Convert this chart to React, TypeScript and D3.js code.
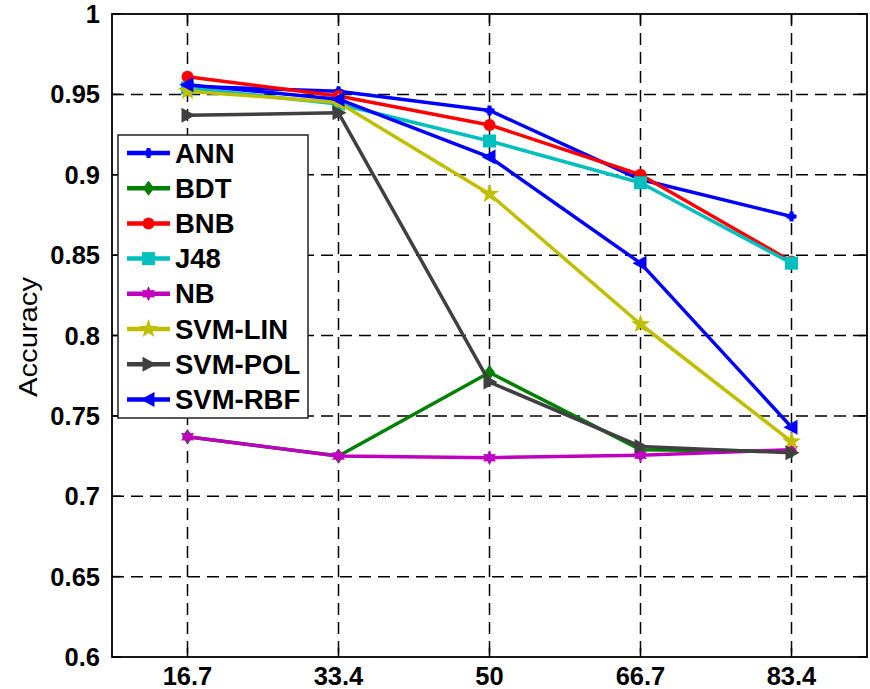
import React from 'react';
import * as d3 from 'd3';

const xLabels = ['16.7', '33.4', '50', '66.7', '83.4'];
const yTicks = [0.6, 0.65, 0.7, 0.75, 0.8, 0.85, 0.9, 0.95, 1];

const ANN = [0.955, 0.952, 0.94, 0.897, 0.874];
const BDT = [0.737, 0.725, 0.777, 0.729, 0.728];
const BNB = [0.961, 0.949, 0.931, 0.9, 0.846];
const J48 = [0.954, 0.944, 0.921, 0.895, 0.845];
const NB = [0.737, 0.725, 0.724, 0.7255, 0.729];
const SVM_LIN = [0.952, 0.945, 0.888, 0.807, 0.734];
const SVM_POL = [0.937, 0.9385, 0.771, 0.731, 0.727];
const SVM_RBF = [0.956, 0.947, 0.911, 0.845, 0.743];

const seriesNames = ['ANN', 'BDT', 'BNB', 'J48', 'NB', 'SVM-LIN', 'SVM-POL', 'SVM-RBF'];
const seriesValues = [ANN, BDT, BNB, J48, NB, SVM_LIN, SVM_POL, SVM_RBF];
const seriesColors = ['#0000ff', '#008000', '#ff0000', '#00bfbf', '#bf00bf', '#bfbf00', '#404040', '#0000ff'];
const seriesMarkers = ['plus', 'diamond', 'circle', 'square', 'hexagram', 'star', 'triRight', 'triLeft'];

const W = 870;
const H = 689;
const L = 112, T = 14, R = 867, B = 657;

const x = d3.scaleLinear().domain([0.5, 5.5]).range([L, R]);
const y = d3.scaleLinear().domain([0.6, 1]).range([B, T]);

function starPath(n: number, ro: number, ri: number, rot = -Math.PI / 2) {
  const pts: [number, number][] = [];
  for (let i = 0; i < n * 2; i++) {
    const r = i % 2 === 0 ? ro : ri;
    const a = rot + (i * Math.PI) / n;
    pts.push([r * Math.cos(a), r * Math.sin(a)]);
  }
  return 'M' + pts.map((p) => p[0].toFixed(2) + ',' + p[1].toFixed(2)).join('L') + 'Z';
}

function Marker({ type, cx, cy, color }: { type: string; cx: number; cy: number; color: string }) {
  const t = `translate(${cx},${cy})`;
  switch (type) {
    case 'plus':
      return (
        <g transform={t}>
          <path d="M-5,0H5M0,-5V5" stroke={color} strokeWidth={4} />
          <circle r={3.5} fill={color} />
        </g>
      );
    case 'diamond':
      return <path transform={t} d="M0,-7L5,0L0,7L-5,0Z" fill={color} stroke={color} strokeWidth={1} />;
    case 'circle':
      return <circle cx={cx} cy={cy} r={6} fill={color} />;
    case 'square':
      return <rect x={cx - 6.5} y={cy - 6.5} width={13} height={13} fill={color} />;
    case 'hexagram':
      return <path transform={t} d={starPath(6, 7.5, 4)} fill={color} />;
    case 'star':
      return <path transform={t} d={starPath(5, 10, 4)} fill={color} />;
    case 'triRight':
      return <path transform={t} d="M8,0L-6,-7.5L-6,7.5Z" fill={color} />;
    case 'triLeft':
      return <path transform={t} d="M-8,0L6,-7.5L6,7.5Z" fill={color} />;
    default:
      return null;
  }
}

export default function App() {
  const line = d3
    .line<number>()
    .x((_, i) => x(i + 1))
    .y((d) => y(d));

  const font = "'Liberation Sans', Arial, Helvetica, sans-serif";

  return (
    <svg
      width={W}
      height={H}
      viewBox={`0 0 ${W} ${H}`}
      style={{ position: 'absolute', left: 0, top: 0, background: '#fff' }}
    >
      <rect x={0} y={0} width={W} height={H} fill="#fff" />
      {/* grid */}
      <g stroke="#000" strokeWidth={1.5} strokeDasharray="12,7">
        {yTicks.slice(1, -1).map((v) => (
          <line key={'gy' + v} x1={L} x2={R} y1={y(v)} y2={y(v)} />
        ))}
        {xLabels.map((_, i) => (
          <line key={'gx' + i} x1={x(i + 1)} x2={x(i + 1)} y1={T} y2={B} />
        ))}
      </g>
      {/* ticks */}
      <g stroke="#000" strokeWidth={1.5}>
        {xLabels.map((_, i) => (
          <g key={'tx' + i}>
            <line x1={x(i + 1)} x2={x(i + 1)} y1={B} y2={B - 9} />
            <line x1={x(i + 1)} x2={x(i + 1)} y1={T} y2={T + 9} />
          </g>
        ))}
        {yTicks.map((v) => (
          <g key={'ty' + v}>
            <line x1={L} x2={L + 9} y1={y(v)} y2={y(v)} />
            <line x1={R} x2={R - 9} y1={y(v)} y2={y(v)} />
          </g>
        ))}
      </g>
      {/* axes box */}
      <rect x={L} y={T} width={R - L} height={B - T} fill="none" stroke="#000" strokeWidth={1.8} />
      {/* tick labels */}
      <g fontFamily={font} fontSize={25.5} fontWeight="bold" fill="#000">
        {xLabels.map((lab, i) => (
          <text key={'xl' + i} x={x(i + 1)} y={685} textAnchor="middle">
            {lab}
          </text>
        ))}
        {yTicks.map((v) => (
          <text key={'yl' + v} x={100} y={y(v)} textAnchor="end" dominantBaseline="central">
            {String(v)}
          </text>
        ))}
      </g>
      <text
        transform={`translate(37,337) rotate(-90)`}
        textAnchor="middle"
        fontFamily={font}
        fontSize={26}
        fill="#000"
        textLength={120}
        lengthAdjust="spacingAndGlyphs"
      >
        Accuracy
      </text>
      {/* series */}
      {seriesValues.map((vals, si) => (
        <g key={'s' + si}>
          <path d={line(vals) || ''} fill="none" stroke={seriesColors[si]} strokeWidth={3.5} strokeLinejoin="round" />
          {vals.map((v, i) => (
            <Marker key={i} type={seriesMarkers[si]} cx={x(i + 1)} cy={y(v)} color={seriesColors[si]} />
          ))}
        </g>
      ))}
      {/* legend */}
      <g>
        <rect x={118} y={135} width={190} height={283} fill="#fff" stroke="#222" strokeWidth={1.5} />
        {seriesNames.map((name, i) => {
          const ly = 153 + i * 35.2;
          return (
            <g key={'lg' + i}>
              <line x1={127} x2={170} y1={ly} y2={ly} stroke={seriesColors[i]} strokeWidth={4.5} />
              <Marker type={seriesMarkers[i]} cx={148.5} cy={ly} color={seriesColors[i]} />
              <text
                x={175}
                y={ly}
                dominantBaseline="central"
                fontFamily={font}
                fontSize={27.5}
                fontWeight="bold"
                fill="#000"
              >
                {name}
              </text>
            </g>
          );
        })}
      </g>
    </svg>
  );
}
